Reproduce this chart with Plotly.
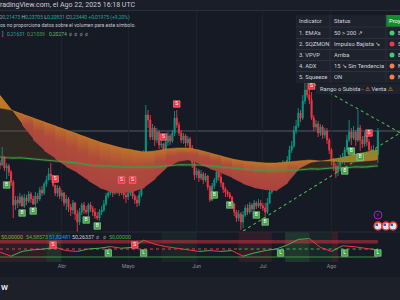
import plotly.graph_objects as go
import pandas as pd

FONT = "Roboto, 'Noto Sans', 'DejaVu Sans', sans-serif"
BG = '#161a25'

# ---------------- data ----------------
days = pd.date_range('2025-03-04', periods=172, freq='D')
first_open = 0.2088
close = [0.2072, 0.2128, 0.2048, 0.2064, 0.2016, 0.1936, 0.1752, 0.1792, 0.1768, 0.1816,
         0.1744, 0.1808, 0.1784, 0.1840, 0.1800, 0.1760, 0.1824, 0.1800, 0.1872, 0.1848,
         0.1920, 0.1952, 0.2000, 0.1984, 0.1912, 0.1848, 0.1888, 0.1824, 0.1848, 0.1768,
         0.1800, 0.1736, 0.1712, 0.1768, 0.1680, 0.1616, 0.1696, 0.1752, 0.1712, 0.1696,
         0.1752, 0.1720, 0.1696, 0.1664, 0.1648, 0.1696, 0.1712, 0.1760, 0.1824, 0.1848,
         0.1872, 0.1848, 0.1888, 0.1872, 0.1848, 0.1888, 0.1832, 0.1816, 0.1848, 0.1872,
         0.1824, 0.1792, 0.1768, 0.1832, 0.2032, 0.2152, 0.2472, 0.2432, 0.2296, 0.2368,
         0.2272, 0.2336, 0.2232, 0.2240, 0.2192, 0.2256, 0.2304, 0.2264, 0.2328, 0.2448,
         0.2392, 0.2328, 0.2272, 0.2304, 0.2248, 0.2280, 0.2208, 0.2088, 0.1992, 0.2024,
         0.1968, 0.2000, 0.1952, 0.1984, 0.1896, 0.1792, 0.1904, 0.1952, 0.2016, 0.1976,
         0.1928, 0.1880, 0.1856, 0.1840, 0.1816, 0.1760, 0.1696, 0.1648, 0.1680, 0.1616,
         0.1672, 0.1728, 0.1696, 0.1752, 0.1720, 0.1768, 0.1744, 0.1768, 0.1744, 0.1728,
         0.1696, 0.1768, 0.1856, 0.1904, 0.1928, 0.1952, 0.2064, 0.2032, 0.2088, 0.2048,
         0.2112, 0.2192, 0.2224, 0.2344, 0.2384, 0.2488, 0.2448, 0.2584, 0.2672, 0.2632,
         0.2592, 0.2448, 0.2376, 0.2400, 0.2328, 0.2376, 0.2312, 0.2344, 0.2272, 0.2192,
         0.2104, 0.2064, 0.2016, 0.2064, 0.2112, 0.2128, 0.2192, 0.2272, 0.2336, 0.2288,
         0.2336, 0.2272, 0.2368, 0.2272, 0.2240, 0.2304, 0.2256, 0.2192, 0.2144, 0.2192,
         0.2152, 0.2344]
high = [0.2112, 0.2216, 0.2144, 0.2088, 0.2080, 0.2032, 0.1952, 0.1824, 0.1824, 0.1848,
        0.1832, 0.1840, 0.1832, 0.1864, 0.1856, 0.1824, 0.1856, 0.1848, 0.1896, 0.1904,
        0.1936, 0.1984, 0.2048, 0.2088, 0.1992, 0.1912, 0.1912, 0.1904, 0.1872, 0.1856,
        0.1832, 0.1816, 0.1760, 0.1792, 0.1776, 0.1712, 0.1728, 0.1768, 0.1776, 0.1744,
        0.1768, 0.1776, 0.1744, 0.1728, 0.1696, 0.1720, 0.1744, 0.1792, 0.1848, 0.1888,
        0.1904, 0.1896, 0.1912, 0.1904, 0.1896, 0.1904, 0.1896, 0.1856, 0.1872, 0.1896,
        0.1904, 0.1840, 0.1824, 0.1864, 0.2072, 0.2192, 0.2552, 0.2512, 0.2472, 0.2400,
        0.2384, 0.2368, 0.2352, 0.2320, 0.2248, 0.2272, 0.2336, 0.2320, 0.2352, 0.2504,
        0.2512, 0.2416, 0.2352, 0.2328, 0.2320, 0.2304, 0.2296, 0.2232, 0.2112, 0.2048,
        0.2040, 0.2032, 0.2016, 0.2008, 0.1992, 0.1912, 0.1928, 0.1968, 0.2048, 0.2032,
        0.2008, 0.1936, 0.1896, 0.1872, 0.1856, 0.1824, 0.1768, 0.1712, 0.1712, 0.1696,
        0.1704, 0.1752, 0.1760, 0.1776, 0.1768, 0.1792, 0.1784, 0.1800, 0.1792, 0.1768,
        0.1768, 0.1808, 0.1904, 0.1944, 0.1968, 0.1984, 0.2096, 0.2088, 0.2112, 0.2104,
        0.2144, 0.2224, 0.2264, 0.2384, 0.2432, 0.2528, 0.2512, 0.2632, 0.2768, 0.2752,
        0.2688, 0.2656, 0.2472, 0.2432, 0.2424, 0.2400, 0.2392, 0.2368, 0.2368, 0.2288,
        0.2208, 0.2128, 0.2088, 0.2104, 0.2152, 0.2168, 0.2216, 0.2312, 0.2432, 0.2368,
        0.2384, 0.2352, 0.2512, 0.2392, 0.2304, 0.2336, 0.2320, 0.2280, 0.2224, 0.2232,
        0.2208, 0.2368]
low = [0.2040, 0.2064, 0.2024, 0.1960, 0.1984, 0.1904, 0.1648, 0.1712, 0.1728, 0.1744,
       0.1736, 0.1728, 0.1752, 0.1768, 0.1768, 0.1752, 0.1736, 0.1768, 0.1784, 0.1824,
       0.1832, 0.1896, 0.1952, 0.1952, 0.1896, 0.1824, 0.1816, 0.1800, 0.1784, 0.1744,
       0.1712, 0.1696, 0.1664, 0.1680, 0.1632, 0.1536, 0.1592, 0.1672, 0.1680, 0.1680,
       0.1664, 0.1696, 0.1664, 0.1640, 0.1632, 0.1624, 0.1672, 0.1696, 0.1744, 0.1808,
       0.1832, 0.1816, 0.1832, 0.1840, 0.1824, 0.1832, 0.1800, 0.1768, 0.1792, 0.1824,
       0.1800, 0.1760, 0.1736, 0.1744, 0.1816, 0.2016, 0.2136, 0.2368, 0.2272, 0.2272,
       0.2224, 0.2248, 0.2200, 0.2208, 0.2160, 0.2176, 0.2224, 0.2232, 0.2248, 0.2304,
       0.2368, 0.2304, 0.2248, 0.2240, 0.2216, 0.2224, 0.2176, 0.2048, 0.1952, 0.1968,
       0.1936, 0.1952, 0.1920, 0.1936, 0.1872, 0.1776, 0.1784, 0.1880, 0.1928, 0.1944,
       0.1896, 0.1848, 0.1816, 0.1816, 0.1800, 0.1728, 0.1664, 0.1616, 0.1624, 0.1552,
       0.1568, 0.1656, 0.1672, 0.1680, 0.1696, 0.1704, 0.1720, 0.1728, 0.1720, 0.1704,
       0.1664, 0.1680, 0.1760, 0.1840, 0.1888, 0.1904, 0.1936, 0.2000, 0.2016, 0.2024,
       0.2032, 0.2096, 0.2168, 0.2208, 0.2320, 0.2368, 0.2416, 0.2432, 0.2560, 0.2608,
       0.2560, 0.2432, 0.2344, 0.2352, 0.2296, 0.2304, 0.2280, 0.2288, 0.2240, 0.2160,
       0.2072, 0.2024, 0.1968, 0.1984, 0.2048, 0.2080, 0.2072, 0.2176, 0.2256, 0.2232,
       0.2272, 0.2224, 0.2256, 0.2184, 0.2208, 0.2216, 0.2224, 0.2144, 0.2112, 0.2128,
       0.2112, 0.2088]
opens = [first_open] + close[:-1]

sell_idx = [25, 55, 60, 74, 80, 141, 167]
buy_idx = [3, 10, 15, 39, 44, 97, 104, 116, 120, 156, 159, 163]

ema_idx = list(range(0, 171, 5)) + [171]
ema_fast = [0.2632, 0.2520, 0.2392, 0.2272, 0.2184, 0.2120, 0.2056, 0.2008, 0.1944, 0.1888,
            0.1856, 0.1848, 0.1856, 0.1888, 0.1960, 0.2048, 0.2096, 0.2112, 0.2080, 0.2040,
            0.2008, 0.1968, 0.1920, 0.1888, 0.1872, 0.1864, 0.1928, 0.2040, 0.2088, 0.2104,
            0.2120, 0.2136, 0.2160, 0.2176, 0.2192, 0.2200]
ema_slow = [0.2528, 0.2512, 0.2480, 0.2448, 0.2416, 0.2384, 0.2352, 0.2320, 0.2288, 0.2256,
            0.2232, 0.2208, 0.2192, 0.2176, 0.2184, 0.2200, 0.2208, 0.2208, 0.2192, 0.2168,
            0.2144, 0.2120, 0.2104, 0.2096, 0.2088, 0.2088, 0.2096, 0.2104, 0.2112, 0.2104,
            0.2104, 0.2096, 0.2096, 0.2104, 0.2112, 0.2120]
ema_200 = [0.2136, 0.2128, 0.2128, 0.2120, 0.2112, 0.2104, 0.2096, 0.2088, 0.2072, 0.2064,
           0.2064, 0.2056, 0.2056, 0.2056, 0.2056, 0.2064, 0.2072, 0.2072, 0.2072, 0.2064,
           0.2056, 0.2048, 0.2040, 0.2032, 0.2032, 0.2032, 0.2032, 0.2032, 0.2040, 0.2040,
           0.2048, 0.2048, 0.2056, 0.2056, 0.2064, 0.2064]

osc = [46, 41, 47, 49, 50, 52, 48, 47, 50, 51, 53, 51, 52, 61, 56, 53, 51, 49, 47, 48,
       47, 48, 41, 45, 48, 50, 55, 62, 63, 52, 47, 54, 53, 51, 49, 50]
osc_mid, osc_low_line, osc_band = 50, 40, (57, 61.25)
osc_long_idx = [49, 65, 127, 156, 171]
osc_short_idx = [24, 61]
osc_bg = [('2025-03-04', '2025-03-25', 'rgba(242,54,69,0.10)'),
          ('2025-03-25', '2025-04-01', 'rgba(76,175,80,0.16)'),
          ('2025-05-16', '2025-06-01', 'rgba(76,175,80,0.08)'),
          ('2025-06-20', '2025-07-05', 'rgba(242,54,69,0.12)'),
          ('2025-07-11', '2025-07-22', 'rgba(76,175,80,0.20)'),
          ('2025-07-22', '2025-08-01', 'rgba(76,175,80,0.08)'),
          ('2025-08-01', '2025-08-04', 'rgba(242,54,69,0.16)')]

trend_up_x = ['2025-07-24', '2025-09-05']
trend_up_y = [0.2720, 0.2291]
trend_lo_x = ['2025-06-22', '2025-09-05']
trend_lo_y = [0.1544, 0.2372]

month_ticks = ['2025-04-01', '2025-05-01', '2025-06-01', '2025-07-01', '2025-08-01', '2025-09-01']
month_text = ['Abr', 'Mayo', 'Jun', 'Jul', 'Ago', 'Sep']

# ---------------- helpers ----------------
H_PLOT = 262.0


def px(x):
    return x / 400.0


def py(y):
    return (H_PLOT - y) / H_PLOT


def rgb(c, a=1.0):
    return f'rgba({int(c[0])},{int(c[1])},{int(c[2])},{a})'


def mix(a, b, t):
    return tuple(a[k] * (1 - t) + b[k] * t for k in range(3))


fig = go.Figure()
ex = [days[i] for i in ema_idx]

# dark fill between lower band edge and EMA200
lo = [max(min(f, s), e) for f, s, e in zip(ema_fast, ema_slow, ema_200)]
fig.add_trace(go.Scatter(x=ex + ex[::-1], y=lo + ema_200[::-1], fill='toself', mode='lines',
                         line=dict(width=0), fillcolor='rgba(130,90,30,0.22)', hoverinfo='skip'))

# gradient cloud between the two EMAs
ORANGE = (190, 116, 40)
RED = (170, 66, 64)
OLIVE = (132, 138, 46)
WEDGE = (200, 124, 40)
overlap = pd.Timedelta(hours=10)
for j in range(len(ex) - 1):
    f0, f1, s0, s1 = ema_fast[j], ema_fast[j + 1], ema_slow[j], ema_slow[j + 1]
    gap = ((s0 - f0) + (s1 - f1)) / 2
    if gap >= 0:
        t = min(1.0, gap / 0.011)
        top, bot = ORANGE, mix(ORANGE, RED, t)
        midc = mix(ORANGE, RED, t * 0.8)
    elif j < 10:
        top, bot = WEDGE, mix(WEDGE, (160, 100, 35), 0.3)
        midc = mix(top, bot, 0.5)
    else:
        top, bot = OLIVE, mix(OLIVE, ORANGE, 0.55)
        midc = mix(top, bot, 0.5)
    xr = ex[j + 1] + overlap if j < len(ex) - 2 else ex[j + 1]
    fig.add_trace(go.Scatter(x=[ex[j], xr, xr, ex[j], ex[j]], y=[f0, f1, s1, s0, f0],
                             mode='lines', line=dict(width=0), fill='toself',
                             fillgradient=dict(type='vertical',
                                               colorscale=[[0, rgb(bot)], [0.6, rgb(midc)], [1, rgb(top)]]),
                             hoverinfo='skip'))

fig.add_trace(go.Scatter(x=ex, y=ema_slow, mode='lines',
                         line=dict(color='rgba(215,132,44,0.7)', width=0.7), hoverinfo='skip'))
fig.add_trace(go.Scatter(x=ex, y=ema_200, mode='lines', line=dict(color='rgba(76,175,80,0.18)', width=3,
                         shape='spline'), hoverinfo='skip'))
fig.add_trace(go.Scatter(x=ex, y=ema_200, mode='lines', line=dict(color='#3d9a48', width=1.2,
                         shape='spline'), hoverinfo='skip'))

# trend lines
fig.add_trace(go.Scatter(x=trend_up_x, y=trend_up_y, mode='lines',
                         line=dict(color='#4caf50', width=1.1, dash='dot'), hoverinfo='skip'))
fig.add_trace(go.Scatter(x=trend_lo_x, y=trend_lo_y, mode='lines',
                         line=dict(color='#4caf50', width=1.1, dash='dot'), hoverinfo='skip'))

# candles
fig.add_trace(go.Candlestick(x=days, open=opens, high=high, low=low, close=close,
                             increasing=dict(line=dict(color='#089981', width=0.9), fillcolor='#089981'),
                             decreasing=dict(line=dict(color='#f23645', width=0.9), fillcolor='#f23645'),
                             whiskerwidth=0, hoverinfo='skip'))

# signal labels
GAP = 0.0048
fig.add_trace(go.Scatter(x=[days[i] for i in sell_idx], y=[high[i] + GAP for i in sell_idx],
                         mode='markers+text', text=['S'] * len(sell_idx), textposition='middle center',
                         textfont=dict(size=5, color='white', family=FONT),
                         marker=dict(symbol='square', size=6.5, color='#f23645',
                                     line=dict(color='#ff8c96', width=0.6)), hoverinfo='skip'))
fig.add_trace(go.Scatter(x=[days[i] for i in buy_idx], y=[low[i] - GAP for i in buy_idx],
                         mode='markers+text', text=['B'] * len(buy_idx), textposition='middle center',
                         textfont=dict(size=5, color='white', family=FONT),
                         marker=dict(symbol='square', size=6.5, color='#43a047',
                                     line=dict(color='#a5d6a7', width=0.6)), hoverinfo='skip'))

# ---------------- oscillator pane ----------------
gx, gy, rx, ry = [], [], [], []
for j in range(len(ex) - 1):
    if osc[j + 1] >= osc[j]:
        gx += [ex[j], ex[j + 1], None]
        gy += [osc[j], osc[j + 1], None]
    else:
        rx += [ex[j], ex[j + 1], None]
        ry += [osc[j], osc[j + 1], None]
fig.add_trace(go.Scatter(x=[days[0], days[-1], days[-1], days[0], days[0]],
                         y=[osc_band[0], osc_band[0], osc_band[1], osc_band[1], osc_band[0]],
                         fill='toself', mode='lines', line=dict(width=0),
                         fillcolor='rgba(242,54,69,0.45)', yaxis='y2', hoverinfo='skip'))
fig.add_trace(go.Scatter(x=[days[0], days[-1]], y=[osc_low_line] * 2, mode='lines', yaxis='y2',
                         line=dict(color='rgba(76,175,80,0.75)', width=1), hoverinfo='skip'))
fig.add_trace(go.Scatter(x=[days[0], days[108]], y=[osc_mid] * 2, mode='lines', yaxis='y2',
                         line=dict(color='#f23645', width=1, dash='dot'), hoverinfo='skip'))
fig.add_trace(go.Scatter(x=[days[108], days[-1]], y=[osc_mid] * 2, mode='lines', yaxis='y2',
                         line=dict(color='#4caf50', width=1, dash='dot'), hoverinfo='skip'))
fig.add_trace(go.Scatter(x=rx, y=ry, mode='lines', yaxis='y2', line=dict(color='#f23645', width=1),
                         hoverinfo='skip'))
fig.add_trace(go.Scatter(x=gx, y=gy, mode='lines', yaxis='y2', line=dict(color='#4caf50', width=1),
                         hoverinfo='skip'))
fig.add_trace(go.Scatter(x=[days[i] for i in osc_long_idx], y=[45] * len(osc_long_idx), yaxis='y2',
                         mode='markers+text', text=['L'] * len(osc_long_idx), textposition='middle center',
                         textfont=dict(size=5, color='white', family=FONT),
                         marker=dict(symbol='square', size=6.5, color='#43a047',
                                     line=dict(color='#a5d6a7', width=0.6)), hoverinfo='skip'))
fig.add_trace(go.Scatter(x=[days[i] for i in osc_short_idx], y=[55] * len(osc_short_idx), yaxis='y2',
                         mode='markers+text', text=['S'] * len(osc_short_idx), textposition='middle center',
                         textfont=dict(size=5, color='white', family=FONT),
                         marker=dict(symbol='square', size=6.5, color='#f23645',
                                     line=dict(color='#ff8c96', width=0.6)), hoverinfo='skip'))

# ---------------- shapes ----------------
shapes = []
for a, b, col in osc_bg:
    shapes.append(dict(type='rect', xref='x', yref='y2 domain', x0=a, x1=b, y0=0, y1=1,
                       fillcolor=col, line=dict(width=0), layer='below'))
# last price line
shapes.append(dict(type='line', xref='paper', yref='y', x0=0, x1=1, y0=close[-1], y1=close[-1],
                   line=dict(color='rgba(140,143,153,0.55)', width=1), layer='below'))
# header strip
shapes.append(dict(type='rect', xref='paper', yref='paper', x0=0, x1=1, y0=py(10.5), y1=py(0),
                   fillcolor='#1b1e29', line=dict(width=0), layer='above'))
shapes.append(dict(type='line', xref='paper', yref='paper', x0=0, x1=1, y0=py(10.5), y1=py(10.5),
                   line=dict(color='#2a2e39', width=1), layer='above'))
# pane separator
shapes.append(dict(type='line', xref='paper', yref='paper', x0=0, x1=1, y0=py(232), y1=py(232),
                   line=dict(color='#262a35', width=1), layer='above'))
# bottom toolbar strip
shapes.append(dict(type='rect', xref='paper', yref='paper', x0=0, x1=1, y0=py(300), y1=py(277),
                   fillcolor='#1e2029', line=dict(width=0), layer='above'))
# table
TB_BG = 'rgba(31,35,46,0.94)'
shapes.append(dict(type='rect', xref='paper', yref='paper', x0=px(296), x1=1.01, y0=py(83), y1=py(15),
                   fillcolor=TB_BG, line=dict(width=0), layer='above'))
shapes.append(dict(type='rect', xref='paper', yref='paper', x0=px(386), x1=1.01, y0=py(27), y1=py(15),
                   fillcolor='#138d2c', line=dict(width=0), layer='above'))
for yb in [27, 38.5, 49.5, 60.5, 71.5]:
    shapes.append(dict(type='line', xref='paper', yref='paper', x0=px(296), x1=1.01, y0=py(yb), y1=py(yb),
                       line=dict(color='#30343f', width=0.8), layer='above'))
for xb in [330, 386]:
    shapes.append(dict(type='line', xref='paper', yref='paper', x0=px(xb), x1=px(xb), y0=py(83), y1=py(15),
                       line=dict(color='#30343f', width=0.8), layer='above'))
shapes.append(dict(type='rect', xref='paper', yref='paper', x0=px(316), x1=1.01, y0=py(94), y1=py(84),
                   fillcolor=TB_BG, line=dict(width=0), layer='above'))

rows = [("1. EMA's", "50 > 200 ↗", '#3fcf6f', 'Bull'),
        ("2. SQZMON", "Impulso Bajista ↘", '#f23645', 'Sell'),
        ("3. VPVP", "Arriba", '#3fcf6f', 'Bull'),
        ("4. ADX", "15 ↘ Sin Tendencia", '#ff7a45', 'Neutral'),
        ("5. Squeeze", "ON", '#ff7a45', 'Neutral')]
row_y = [33, 44, 55, 66, 77]
for (a, b, col, c), yy in zip(rows, row_y):
    shapes.append(dict(type='circle', xref='paper', yref='paper', x0=px(389.5), x1=px(394.5),
                       y0=py(yy + 2.5), y1=py(yy - 2.5), fillcolor=col, line=dict(width=0), layer='above'))

# event icons
shapes.append(dict(type='circle', xref='paper', yref='paper', x0=px(374), x1=px(382), y0=py(219), y1=py(211),
                   fillcolor='rgba(0,0,0,0)', line=dict(color='#9c27b0', width=1), layer='above'))
for cx in [378, 386, 393]:
    shapes.append(dict(type='circle', xref='paper', yref='paper', x0=px(cx - 4), x1=px(cx + 4),
                       y0=py(230), y1=py(222), fillcolor='#dfe3ee',
                       line=dict(color='#e53935', width=1.3), layer='above'))
    shapes.append(dict(type='rect', xref='paper', yref='paper', x0=px(cx - 2.5), x1=px(cx),
                       y0=py(226), y1=py(223.5), fillcolor='#3f51b5', line=dict(width=0), layer='above'))

# ---------------- annotations ----------------
ann = []


def txt(x, y, s, size, color, anchor='left', bold=False):
    if bold:
        s = f'<b>{s}</b>'
    ann.append(dict(x=px(x), y=py(y), xref='paper', yref='paper', text=s, showarrow=False,
                    xanchor=anchor, yanchor='middle', borderpad=0,
                    font=dict(size=size, color=color, family=FONT)))


txt(-5.2, 5.5, 'TradingView.com, el Ago 22, 2025 16:18 UTC', 7, '#c9ccd4')
G = '#26a69a'
W = '#b2b5be'
line1 = (f"<span style='color:{W}'>O</span>0,21473 <span style='color:{W}'>H</span>0,23705 "
         f"<span style='color:{W}'>L</span>0,20831 <span style='color:{W}'>C</span>0,23440 +0,01975 (+9,20%)")
txt(-2.2, 17.5, line1, 5, G)
txt(-0.8, 25.5, 'os no proporciona datos sobre el volumen para este símbolo.', 5, '#c3c6ce')
txt(0.5, 33.5, ']', 5, W)
txt(5.5, 33.5, '0,21631', 5, '#26a69a')
txt(26, 33.5, '0,21039', 5, '#43a047')
txt(47.5, 33.5, '0,20274', 5, '#66bb6a')
txt(67.5, 33.5, 'ø  ø  ø  ø', 5, '#8a8d96')

# oscillator values
txt(-0.5, 237, '50,00000', 5.3, '#7cb342')
txt(25, 237, '54,58573', 5.3, '#4caf50')
txt(48, 237, '51,82481', 5.3, '#2196f3')
txt(71, 237, '50,26337', 5.3, '#c9ccd4')
txt(95, 237, 'ø', 5.3, '#8a8d96')
txt(102, 237, 'ø', 5.3, '#8a8d96')
txt(108, 237, '50,00000', 5.3, '#4caf50')

# table texts
TC = '#d1d4dc'
txt(298, 21, 'Indicator', 5.8, TC)
txt(333, 21, 'Status', 5.8, TC)
txt(388, 21, 'Proy', 5.8, '#ffffff')
for (a, b, col, c), yy in zip(rows, row_y):
    txt(298, yy, a, 5.8, TC)
    txt(333, yy, b, 5.8, TC)
    txt(397, yy, c, 5.8, TC)
txt(319, 89, "Rango o Subida - <span style='color:#f5a623'>⚠</span> Venta "
             "<span style='color:#f5a623'>⚠</span>", 5.8, TC)

# event icon glyph
txt(378, 215, '⚡', 5, '#ab47bc', anchor='center')
# bottom logo fragment
txt(-0.5, 287.5, 'W', 8, '#e0e3eb', bold=True)

fig.update_layout(
    width=400, height=300,
    margin=dict(l=0, r=0, t=0, b=38),
    paper_bgcolor=BG, plot_bgcolor=BG,
    showlegend=False, hovermode=False, dragmode=False,
    font=dict(family=FONT),
    xaxis=dict(type='date', range=['2025-03-04 00:00', '2025-09-01 00:30'], anchor='y2',
               tickvals=month_ticks, ticktext=month_text, ticks='', showline=False,
               tickfont=dict(size=5.3, color='#8a8d96', family=FONT),
               showgrid=True, gridcolor='#1e2230', gridwidth=1, zeroline=False,
               rangeslider=dict(visible=False), fixedrange=True),
    yaxis=dict(domain=[30 / H_PLOT, 1], range=[0.1536, 0.3392], showgrid=False, zeroline=False,
               showticklabels=False, fixedrange=True),
    yaxis2=dict(domain=[0, 30 / H_PLOT], range=[33.75, 71.25], showgrid=False, zeroline=False,
                showticklabels=False, fixedrange=True),
    shapes=shapes, annotations=ann,
)

fig.write_html('out.html', config={'displayModeBar': False, 'staticPlot': True})
